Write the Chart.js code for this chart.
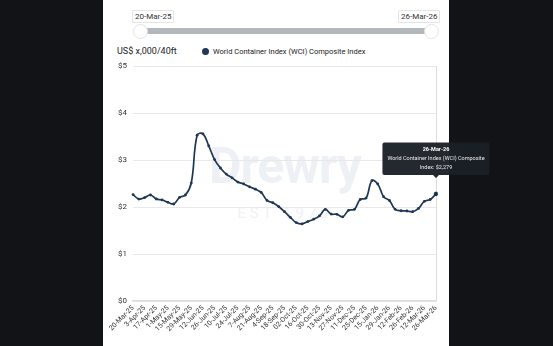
<!DOCTYPE html>
<html>
<head>
<meta charset="utf-8">
<script src="https://cdn.jsdelivr.net/npm/chart.js@4"></script>
<style>
  html, body { margin: 0; padding: 0; }
  body { width: 553px; height: 346px; background: #121317; position: relative; overflow: hidden; font-family: Roboto, "Noto Sans", sans-serif; }
  .panel { position: absolute; left: 103px; top: 0; width: 346px; height: 346px; background: #fff; }
  .mark { position: absolute; left: 180px; top: 136px; width: 210px; text-align: center; color: #edf1f6; }
  .mark .big { font-size: 50px; font-weight: bold; letter-spacing: -1px; line-height: 60px; }
  .mark .est { font-size: 15px; letter-spacing: 4px; color: #f1f2f4; margin-top: 8px; }
  .track { position: absolute; left: 140px; top: 28px; width: 291px; height: 6px; background: #b3b8bd; border-radius: 3px; }
  .knob { position: absolute; top: 24px; width: 13px; height: 13px; border-radius: 50%; background: #fff; border: 1px solid #e2e4e6; }
  .tag { position: absolute; top: 10px; height: 11px; padding: 0 2px; border: 1px solid #e3e5e7; border-radius: 1px; background: #fff; font-size: 8px; line-height: 11px; color: #333; }
  .unit { position: absolute; left: 117px; top: 46px; font-size: 9px; color: #222; }
  .legend { position: absolute; left: 202px; top: 47px; font-size: 7.5px; color: #222; }
  .legend i { display: inline-block; width: 7px; height: 7px; border-radius: 50%; background: #1f3754; vertical-align: -1px; margin-right: 4px; }
  canvas { position: absolute; left: 0; top: 0; }
</style>
</head>
<body>
<div class="panel"></div>
<div class="mark"><div class="big">Drewry</div><div class="est">EST 1970</div></div>
<div class="track"></div>
<div class="knob" style="left:133px"></div>
<div class="knob" style="left:424px"></div>
<div class="tag" style="left:132px">20-Mar-25</div>
<div class="tag" style="left:398px">26-Mar-26</div>
<div class="unit">US$ x,000/40ft</div>
<div class="legend"><i></i>World Container Index (WCI) Composite Index</div>
<canvas id="chart" width="553" height="346"></canvas>
<script>
/* ------------------------------------------------ */

const weeks = [
  '20-Mar-25', '27-Mar-25', '3-Apr-25', '10-Apr-25', '17-Apr-25', '24-Apr-25',
  '1-May-25', '8-May-25', '15-May-25', '22-May-25', '29-May-25', '5-Jun-25',
  '12-Jun-25', '19-Jun-25', '26-Jun-25', '3-Jul-25', '10-Jul-25', '17-Jul-25',
  '24-Jul-25', '31-Jul-25', '7-Aug-25', '14-Aug-25', '21-Aug-25', '28-Aug-25',
  '4-Sep-25', '11-Sep-25', '18-Sep-25', '25-Sep-25', '02-Oct-25', '09-Oct-25',
  '16-Oct-25', '23-Oct-25', '30-Oct-25', '6-Nov-25', '13-Nov-25', '20-Nov-25',
  '27-Nov-25', '4-Dec-25', '11-Dec-25', '18-Dec-25', '25-Dec-25', '8-Jan-26',
  '15-Jan-26', '22-Jan-26', '29-Jan-26', '5-Feb-26', '12-Feb-26', '19-Feb-26',
  '26-Feb-26', '5-Mar-26', '12-Mar-26', '19-Mar-26', '26-Mar-26'
];

// US$ thousands per 40ft
const wciComposite = [
  2.264, 2.168, 2.20, 2.255, 2.17, 2.15,
  2.10, 2.064, 2.206, 2.255, 2.51, 3.527,
  3.557, 3.30, 3.01, 2.83, 2.70, 2.62,
  2.53, 2.49, 2.43, 2.38, 2.31, 2.14,
  2.09, 2.01, 1.90, 1.78, 1.669, 1.64,
  1.69, 1.74, 1.81, 1.95, 1.85, 1.845,
  1.79, 1.93, 1.95, 2.16, 2.19, 2.56,
  2.49, 2.22, 2.14, 1.95, 1.92, 1.915,
  1.90, 1.97, 2.12, 2.16, 2.279
];

const yTicks = [0, 1, 2, 3, 4, 5];

/* ------------------------------------------------ */

Chart.Tooltip.positioners.abovePoint = function (items) {
  if (!items.length) return false;
  let el = items[0].element;
  return { x: el.x, y: el.y - 16 };
};

function generateChart() {
  let ctx = document.getElementById('chart').getContext('2d');
  let last = wciComposite.length - 1;

  chart = new Chart(ctx, {
    type: 'line',
    data: {
      labels: weeks,
      datasets: [{
        label: 'World Container Index (WCI) Composite Index',
        data: wciComposite,
        borderColor: '#1f3754',
        backgroundColor: '#1f3754',
        borderWidth: 1.7,
        pointRadius: 1.4,
        pointHoverRadius: 1.8,
        pointBackgroundColor: '#1f3754',
        pointBorderWidth: 0,
        tension: 0.4,
      }],
    },
    options: {
      responsive: false,
      animation: false,
      layout: { padding: { left: 0, right: 117, top: 66, bottom: 0 } },
      plugins: {
        legend: { display: false },
        tooltip: {
          enabled: true,
          position: 'abovePoint',
          xAlign: 'center',
          yAlign: 'bottom',
          backgroundColor: 'rgba(27,31,39,0.96)',
          titleColor: '#fff',
          bodyColor: '#e8e8e8',
          titleFont: { family: 'Roboto', size: 5.5, weight: 'bold' },
          bodyFont: { family: 'Roboto', size: 5.5 },
          titleAlign: 'center',
          bodyAlign: 'center',
          titleMarginBottom: 2.5,
          bodySpacing: 2,
          padding: { left: 5, right: 5, top: 4, bottom: 4 },
          cornerRadius: 2,
          caretSize: 3,
          caretPadding: 0,
          displayColors: false,
          callbacks: {
            label: (item) => ['World Container Index (WCI) Composite',
              'Index: $' + Math.round(item.raw * 1000).toLocaleString('en-US')],
          },
        },
      },
      scales: {
        x: {
          offset: false,
          grid: {
            color: (c) => (c.index === last) ? '#dcdcdc' : 'rgba(0,0,0,0)',
            drawTicks: false,
          },
          border: { color: '#dedede', width: 1.5 },
          ticks: {
            autoSkip: false,
            maxRotation: 45,
            minRotation: 45,
            padding: 3,
            color: '#333',
            font: { family: 'Roboto', size: 7 },
            callback: function (v, i) { return (i % 2 == 0) ? weeks[i] : ''; },
          },
          afterFit: (s) => { s.height = 45; },
        },
        y: {
          min: 0,
          max: 5,
          afterBuildTicks: (s) => { s.ticks = yTicks.map((v) => ({ value: v })); },
          grid: { color: '#e8e8e8', drawTicks: false },
          border: { display: false },
          ticks: {
            padding: 6,
            color: '#333',
            font: { family: 'Roboto', size: 8 },
            callback: (v) => '$' + v,
          },
          afterFit: (s) => { s.width = 133; },
        },
      },
    },
  });

  let active = [{ datasetIndex: 0, index: last }];
  chart.setActiveElements(active);
  chart.tooltip.setActiveElements(active, { x: 436, y: 194 });
  chart.update('none');
}

generateChart();
</script>
</body>
</html>
